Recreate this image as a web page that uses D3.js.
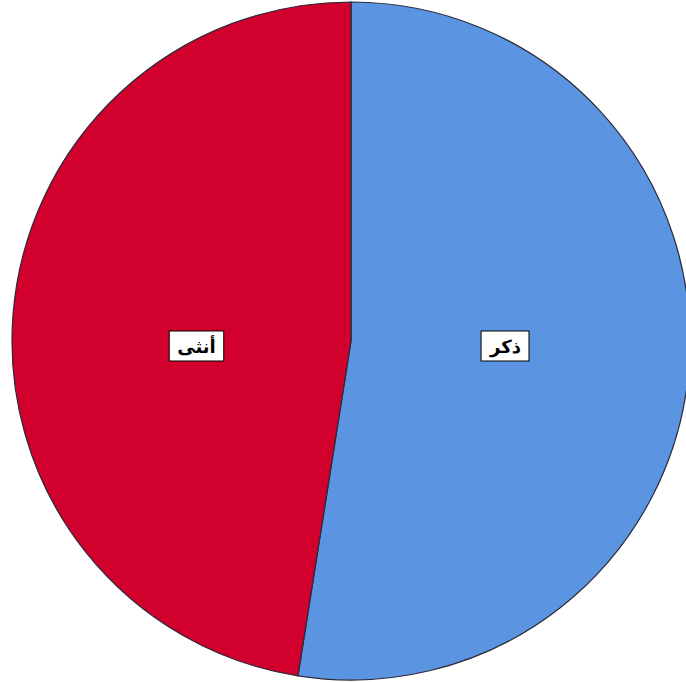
<!DOCTYPE html>
<html><head><meta charset="utf-8">
<script src="https://cdn.jsdelivr.net/npm/d3@7"></script>
<style>html,body{margin:0;padding:0;background:#fff;}</style>
</head><body>
<svg id="c" width="686" height="682"></svg>
<script>
const categories = ["ذكر", "أنثى"];
const values = [52.5, 47.5];
const colors = ["#5B95E1", "#D1002C"];

const svg = d3.select("#c");
const cx = 351, cy = 341, r = 339;
const g = svg.append("g").attr("transform", `translate(${cx},${cy})`);
const pie = d3.pie().sort(null).value(d => d)(values);
const arc = d3.arc().innerRadius(0).outerRadius(r);
g.selectAll("path").data(pie).join("path")
  .attr("d", arc)
  .attr("fill", (d, i) => colors[i])
  .attr("stroke", "#2a2a3a")
  .attr("stroke-width", 1.2);

const labelArc = d3.arc().innerRadius(150).outerRadius(160);
const lg = g.selectAll("g.lab").data(pie).join("g")
  .attr("class", "lab")
  .attr("transform", d => { const c = labelArc.centroid(d); return `translate(${c[0]},5)`; });
lg.each(function(d, i) {
  const el = d3.select(this);
  const t = el.append("text")
    .attr("text-anchor", "middle")
    .attr("dominant-baseline", "central")
    .attr("font-family", "DejaVu Sans, sans-serif")
    .attr("font-weight", "bold")
    .attr("font-size", 18)
    .attr("fill", "#000")
    .text(categories[i]);
  const bb = t.node().getBBox();
  el.insert("rect", "text")
    .attr("x", bb.x - 8).attr("y", -15)
    .attr("width", bb.width + 16).attr("height", 30)
    .attr("fill", "#fff").attr("stroke", "#000").attr("stroke-width", 1);
});
</script>
</body></html>
